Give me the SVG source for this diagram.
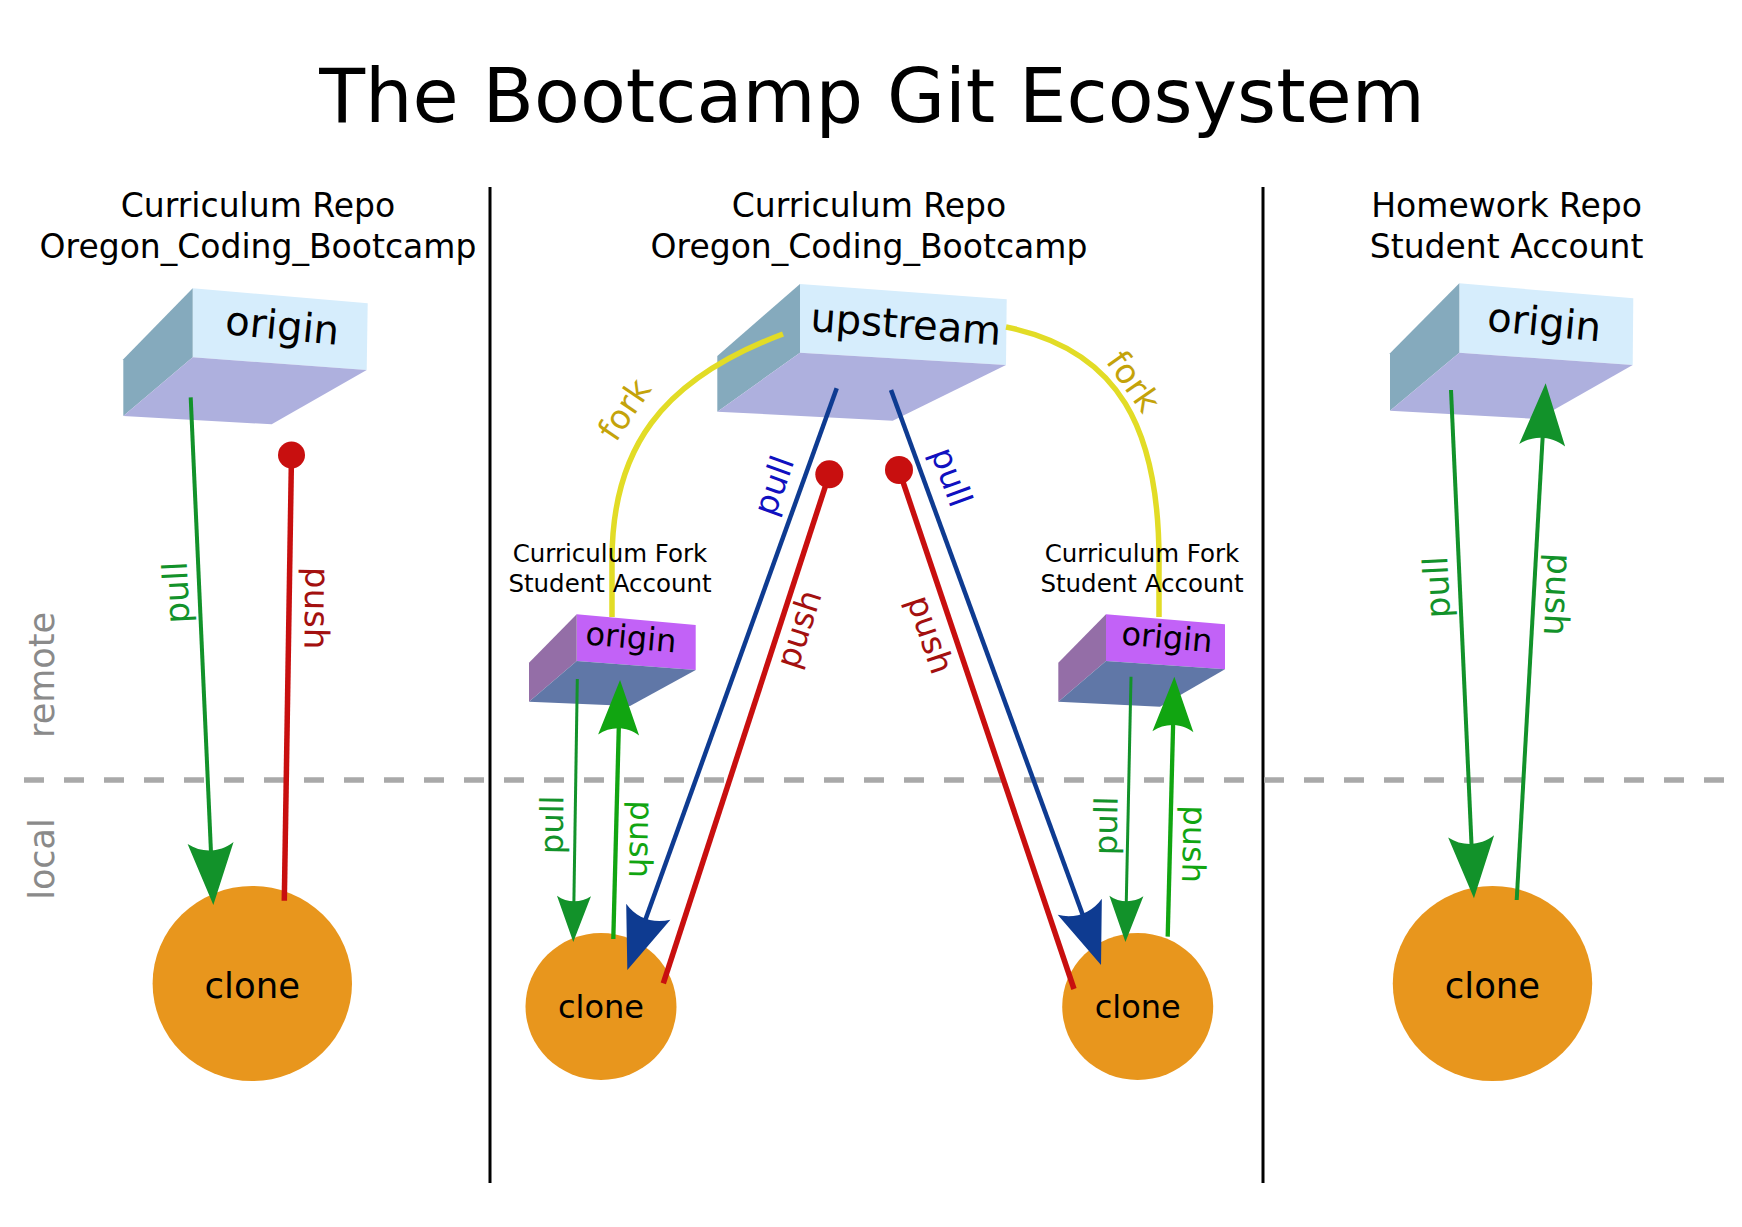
<svg xmlns="http://www.w3.org/2000/svg" width="1742" height="1227" viewBox="0 0 1742 1227">
<style>
text{font-family:"DejaVu Sans","Verdana",sans-serif;fill:#000}
.hdr{font-size:33px;text-anchor:middle}
.fhdr{font-size:24.5px;text-anchor:middle}
.side{font-size:35px;fill:#8a8a8a;text-anchor:middle}
.lbl{text-anchor:middle}
.front{fill:#d6edfc}.left{fill:#85aabd}.bottom{fill:#aeb0de}
.ffront{fill:#c262f7}.fleft{fill:#946ea7}.fbottom{fill:#6077a7}
.clone{fill:#e8961d}
.pullg{stroke:#12922a;fill:none}
.pushg{stroke:#11a511;fill:none}
.red{stroke:#c80f0f;stroke-width:5.5;fill:none}
.blue{stroke:#0e3b91;stroke-width:4.5;fill:none}
.fork{stroke:#e2dc26;stroke-width:5.5;fill:none}
</style>
<defs>
<marker id="mBigG" markerUnits="userSpaceOnUse" orient="auto" markerWidth="1" markerHeight="1" refX="0" refY="0" style="overflow:visible"><path d="M10,0 L-52,23 C-42,9 -42,-9 -52,-23 Z" fill="#12922a"/></marker>
<marker id="mBigB" markerUnits="userSpaceOnUse" orient="auto" markerWidth="1" markerHeight="1" refX="0" refY="0" style="overflow:visible"><path d="M10,0 L-52,23.5 C-42,9 -42,-9 -52,-23.5 Z" fill="#0e3b91"/></marker>
<marker id="mMidG" markerUnits="userSpaceOnUse" orient="auto" markerWidth="1" markerHeight="1" refX="0" refY="0" style="overflow:visible"><path d="M9,0 L-46,20.5 C-37,8 -37,-8 -46,-20.5 Z" fill="#11a511"/></marker>
<marker id="mSmallG" markerUnits="userSpaceOnUse" orient="auto" markerWidth="1" markerHeight="1" refX="0" refY="0" style="overflow:visible"><path d="M8,0 L-38,17 C-31,7 -31,-7 -38,-17 Z" fill="#12922a"/></marker>
</defs>
<rect width="1742" height="1227" fill="#fff"/>

<g id="background">
<text x="872" y="122" style="font-size:75px" text-anchor="middle">The Bootcamp Git Ecosystem</text>
<line x1="490" y1="187" x2="490" y2="1183" stroke="#000" stroke-width="3"/>
<line x1="1263" y1="187" x2="1263" y2="1183" stroke="#000" stroke-width="3"/>
<line x1="24" y1="780" x2="1724" y2="780" stroke="#a9a9a9" stroke-width="5.5" stroke-dasharray="20 20"/>
<text class="side" transform="translate(54.3,675) rotate(-90)">remote</text>
<text class="side" transform="translate(54.3,859) rotate(-90)">local</text>
<text class="hdr" x="258" y="217">Curriculum Repo</text>
<text class="hdr" x="258" y="258">Oregon_Coding_Bootcamp</text>
<text class="hdr" x="869" y="217">Curriculum Repo</text>
<text class="hdr" x="869" y="258">Oregon_Coding_Bootcamp</text>
<text class="hdr" x="1506.6" y="217">Homework Repo</text>
<text class="hdr" x="1506.6" y="258">Student Account</text>
</g>

<g id="origin-curriculum">
<polygon class="front" points="192.7,288.3 367.7,303.3 366.7,370 192.7,357.3"/>
<polygon class="left" points="123.3,359.3 192.7,288.3 192.7,357.3 123.3,416"/>
<polygon class="bottom" points="123.3,416 192.7,357.3 366.7,370 271.7,424.3"/>
<text class="lbl" style="font-size:40px" transform="translate(281,339.5) rotate(5.5)">origin</text>
</g>

<g id="upstream">
<polygon class="front" points="800,284 1006.7,299.3 1006,365 800,352.7"/>
<polygon class="left" points="717.3,356 800,284 800,352.7 717.3,411.7"/>
<polygon class="bottom" points="717.3,411.7 800,352.7 1006,365 892.7,420.7"/>
<text class="lbl" style="font-size:40px" transform="translate(905,338) rotate(4.2)">upstream</text>
</g>

<g id="origin-homework">
<polygon class="front" points="1459.3,283.3 1633.3,298.3 1632.7,365 1459.3,352.7"/>
<polygon class="left" points="1390,353.3 1459.3,283.3 1459.3,352.7 1390,410.7"/>
<polygon class="bottom" points="1390,410.7 1459.3,352.7 1632.7,365 1537.7,419"/>
<text class="lbl" style="font-size:40px" transform="translate(1543,336) rotate(5.5)">origin</text>
</g>

<g id="fork-left">
<polygon class="ffront" points="576.7,614.3 695.7,625 695.7,670 576.7,661"/>
<polygon class="fleft" points="529,662.7 576.7,614.3 576.7,661 529,701.7"/>
<polygon class="fbottom" points="529,701.7 576.7,661 695.7,670 630,706"/>
<text class="lbl" style="font-size:32px" transform="translate(630,648.4) rotate(5.2)">origin</text>
</g>

<g id="fork-right">
<polygon class="ffront" points="1106,614.3 1225,624.3 1225,669.3 1106,661"/>
<polygon class="fleft" points="1058.3,662.7 1106,614.3 1106,661 1058.3,701.7"/>
<polygon class="fbottom" points="1058.3,701.7 1106,661 1225,669.3 1160,706.7"/>
<text class="lbl" style="font-size:32px" transform="translate(1166,648.3) rotate(5.2)">origin</text>
</g>

<g id="clone-1">
<ellipse class="clone" cx="252.3" cy="983.5" rx="99.7" ry="97.5"/>
<text class="lbl" x="252.3" y="997.7" style="font-size:35.5px">clone</text>
</g>
<g id="clone-2">
<ellipse class="clone" cx="601" cy="1006.5" rx="75.5" ry="73.5"/>
<text class="lbl" x="601" y="1018" style="font-size:32px">clone</text>
</g>
<g id="clone-3">
<ellipse class="clone" cx="1137.7" cy="1006.5" rx="75.5" ry="73.5"/>
<text class="lbl" x="1137.7" y="1018" style="font-size:32px">clone</text>
</g>
<g id="clone-4">
<ellipse class="clone" cx="1492.5" cy="983.5" rx="99.7" ry="97.5"/>
<text class="lbl" x="1492.5" y="997.7" style="font-size:35.5px">clone</text>
</g>

<g id="connectors">
<!-- column 1 -->
<line class="pullg" stroke-width="4" x1="190.7" y1="397.3" x2="212.9" y2="895" marker-end="url(#mBigG)"/>
<line class="red" x1="291.5" y1="455" x2="284.3" y2="900.7"/>
<circle cx="291.5" cy="455" r="13.5" fill="#c80f0f"/>
<text class="lbl" style="font-size:34px;fill:#12922a" transform="translate(188,592) rotate(-92.5)">pull</text>
<text class="lbl" style="font-size:34px;fill:#a3100f" transform="translate(305,608) rotate(90.9)">push</text>

<!-- column 3 -->
<line class="pullg" stroke-width="4" x1="1451" y1="390" x2="1473.5" y2="888.3" marker-end="url(#mBigG)"/>
<line class="pullg" stroke-width="4" x1="1516.7" y1="900" x2="1545.1" y2="393.3" marker-end="url(#mBigG)"/>
<text class="lbl" style="font-size:34px;fill:#12922a" transform="translate(1448.5,586.7) rotate(-92.6)">pull</text>
<text class="lbl" style="font-size:34px;fill:#12922a" transform="translate(1546,594) rotate(93.2)">push</text>

<!-- forks -->
<path class="fork" d="M783,334 C660,380 612,450 612,560 L612,617"/>
<path class="fork" d="M1006,327 C1120,350 1159,430 1159,560 L1159,617"/>
<text class="lbl" style="font-size:33.5px;fill:#c4a30a" transform="translate(634,416) rotate(-56)">fork</text>
<text class="lbl" style="font-size:33.5px;fill:#c4a30a" transform="translate(1124,388) rotate(55)">fork</text>

<!-- upstream pulls and pushes -->
<line class="blue" x1="836.7" y1="388.3" x2="630.7" y2="960.6" marker-end="url(#mBigB)"/>
<line class="blue" x1="891" y1="390" x2="1097.6" y2="955.6" marker-end="url(#mBigB)"/>
<line class="red" x1="829.3" y1="474.3" x2="663.3" y2="983.3"/>
<circle cx="829.3" cy="474.3" r="14" fill="#c80f0f"/>
<line class="red" x1="899" y1="470" x2="1074" y2="989"/>
<circle cx="899" cy="470" r="14" fill="#c80f0f"/>
<text class="lbl" style="font-size:33px;fill:#1010c0" transform="translate(784.5,489.5) rotate(-70.2)">pull</text>
<text class="lbl" style="font-size:33px;fill:#a3100f" transform="translate(809.6,632.6) rotate(-71.9)">push</text>
<text class="lbl" style="font-size:33px;fill:#1010c0" transform="translate(940.9,480.8) rotate(70)">pull</text>
<text class="lbl" style="font-size:33px;fill:#a3100f" transform="translate(919.6,638.1) rotate(71.4)">push</text>

<!-- fork to clone -->
<line class="pullg" stroke-width="3" x1="577.3" y1="679" x2="573.4" y2="934" marker-end="url(#mSmallG)"/>
<line class="pushg" stroke-width="4.3" x1="613.3" y1="939" x2="619.8" y2="689" marker-end="url(#mMidG)"/>
<line class="pullg" stroke-width="3" x1="1131" y1="676.7" x2="1125.6" y2="934" marker-end="url(#mSmallG)"/>
<line class="pushg" stroke-width="4.3" x1="1167.7" y1="936.6" x2="1174.1" y2="685.7" marker-end="url(#mMidG)"/>
<text class="lbl" style="font-size:32px;fill:#12922a" transform="translate(563,825) rotate(-89)">pull</text>
<text class="lbl" style="font-size:32px;fill:#11a511" transform="translate(630,839) rotate(91.5)">push</text>
<text class="lbl" style="font-size:32px;fill:#12922a" transform="translate(1117,826) rotate(-88.8)">pull</text>
<text class="lbl" style="font-size:32px;fill:#11a511" transform="translate(1183,844) rotate(91.5)">push</text>
</g>

<g id="fork-left-label">
<text class="fhdr" x="610" y="561.7">Curriculum Fork</text>
<text class="fhdr" x="610" y="592.3">Student Account</text>
</g>
<g id="fork-right-label">
<text class="fhdr" x="1142" y="561.7">Curriculum Fork</text>
<text class="fhdr" x="1142" y="592.3">Student Account</text>
</g>
</svg>
